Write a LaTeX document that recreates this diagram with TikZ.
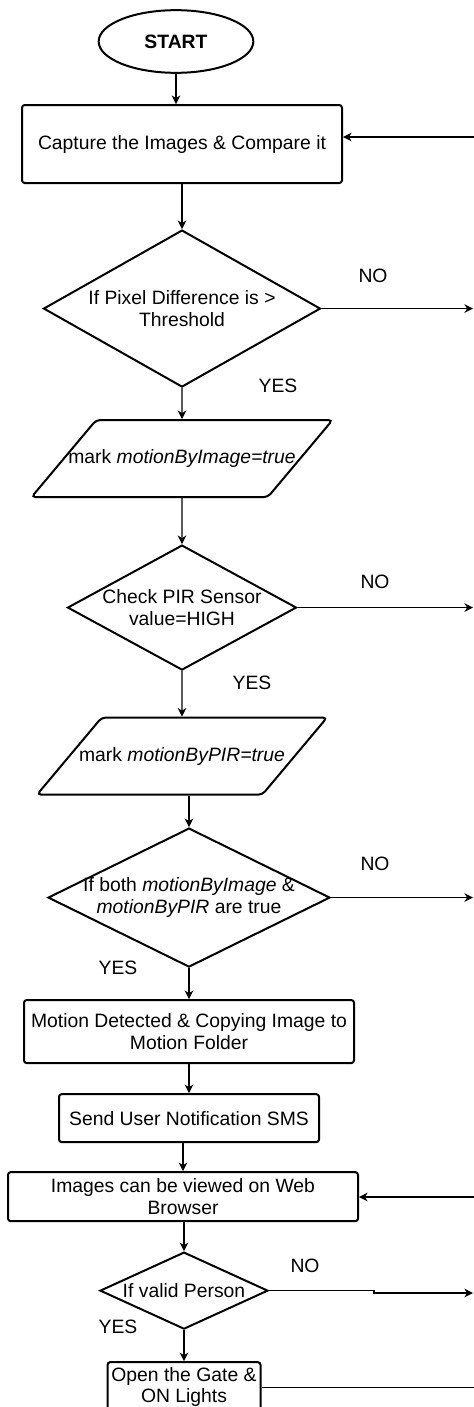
\documentclass[tikz,border=0pt]{standalone}
\usepackage{fontspec}
\setmainfont{Liberation Sans}
\usetikzlibrary{shapes.geometric,arrows.meta,positioning}

\begin{document}
\begin{tikzpicture}[x=0.75pt, y=-0.75pt, >={Stealth[length=6.5pt,width=6.5pt]},
    font=\fontsize{14.5}{16}\selectfont]
    \tikzstyle{startstop} = [shape=ellipse, draw, line width=1.5pt, minimum width=116pt, minimum height=47pt]
    \tikzstyle{process} = [shape=rectangle, draw, line width=1.5pt, rounded corners=2pt, inner sep=2pt, align=center]
    \tikzstyle{decision} = [shape=diamond, draw, line width=1.5pt, shape aspect=2, inner sep=-5pt, align=center]
    \tikzstyle{io} = [shape=trapezium, trapezium left angle=50, trapezium right angle=130, trapezium stretches body,
                      draw, line width=1.5pt, rounded corners=3pt, inner xsep=-22pt, inner ysep=21.9pt,
                      text height=11pt, text depth=3pt]
    \tikzstyle{lbl} = [inner sep=0pt]
    \tikzstyle{line} = [->, line width=0.8pt]
    \useasboundingbox (0,0) rectangle (474,1407);

    \node (start) [startstop] at (176,41.5) {\textbf{START}};
    \node (capture) [process, minimum width=240pt, minimum height=58.5pt] [below of = start, node distance=76.9pt, xshift=4.5pt] {Capture the Images \& Compare it};
    \node (pixel) [decision, minimum width=207.75pt, minimum height=117.75pt] [below of = capture, node distance=123.4pt] {If Pixel Difference is >\\Threshold};
    \node (markimg) [io, minimum width=225.75pt] [below of = pixel, node distance=112.5pt] {mark \textit{motionByImage=true}};
    \node (pir) [decision, minimum width=171.75pt, minimum height=93.75pt] [below of = markimg, node distance=111.75pt] {Check PIR Sensor\\value=HIGH};
    \node (markpir) [io, minimum width=217.5pt] [below of = pir, node distance=111.4pt] {mark \textit{motionByPIR=true}};
    \node (both) [decision, minimum width=211.5pt, minimum height=104.25pt] [below of = markpir, node distance=106.1pt, xshift=5.25pt] {If both \textit{motionByImage} \&\\\textit{motionByPIR} are true};
    \node (detect) [process, minimum width=247.5pt, minimum height=47.25pt] [below of = both, node distance=100.5pt] {Motion Detected \& Copying Image to\\Motion Folder};
    \node (notify) [process, minimum width=195pt, minimum height=36pt] [below of = detect, node distance=64.9pt] {Send User Notification SMS};
    \node (view) [process, minimum width=262.5pt, minimum height=36.75pt] [below of = notify, node distance=58.9pt, xshift=-4.5pt] {Images can be viewed on Web\\Browser};
    \node (valid) [decision, minimum width=126pt, minimum height=57.75pt] [below of = view, node distance=70.5pt, xshift=0.75pt] {If valid Person};
    \node (gate) [process, minimum width=114.75pt, minimum height=37.5pt] [below of = valid, node distance=72.4pt] {Open the Gate \&\\ON Lights};

    % 标签
    \node (no1) [lbl] at (373,276) {NO};
    \node (yes1) [lbl] at (278,386) {YES};
    \node (no2) [lbl] at (375,582) {NO};
    \node (yes2) [lbl] at (252,683) {YES};
    \node (no3) [lbl] at (375,864) {NO};
    \node (yes3) [lbl] at (118,968) {YES};
    \node (no4) [lbl] at (305,1266) {NO};
    \node (yes4) [lbl] at (118,1327) {YES};

    % 右侧边缘的端点
    \coordinate (rim) at (473,0);
    \coordinate (back1) at (474,137);
    \coordinate (back2) at (474,1197);
    \coordinate (jog) at (473,1293);
    \coordinate (away) at (480,0);

    % 主流程
    \draw [line] (start.south) -- (start.south |- capture.north);
    \draw [line] (capture.south) -- (pixel.north);
    \draw [line] (pixel.south) -- (markimg.north);
    \draw [line] (markimg.south) -- (pir.north);
    \draw [line] (pir.south) -- (markpir.north);
    \draw [line] (both.north |- markpir.south) -- (both.north);
    \draw [line] (both.south) -- (detect.north);
    \draw [line] (detect.south) -- (notify.north);
    \draw [line] (view.north |- notify.south) -- (view.north);
    \draw [line] (valid.north |- view.south) -- (valid.north);
    \draw [line] (valid.south) -- (gate.north);

    % NO 分支与返回
    \draw [line] (pixel.east) -- (pixel.east -| rim);
    \draw [line] (pir.east) -- (pir.east -| rim);
    \draw [line] (both.east) -- (both.east -| rim);
    \draw [line] (valid.east) -- ++(105,0) |- (jog);
    \draw [line] (back1) -- (back1 -| capture.east);
    \draw [line] (back2) -- (back2 -| view.east);
    \draw [line width=0.8pt] (gate.east) -- (gate.east -| away);
\end{tikzpicture}
\end{document}
